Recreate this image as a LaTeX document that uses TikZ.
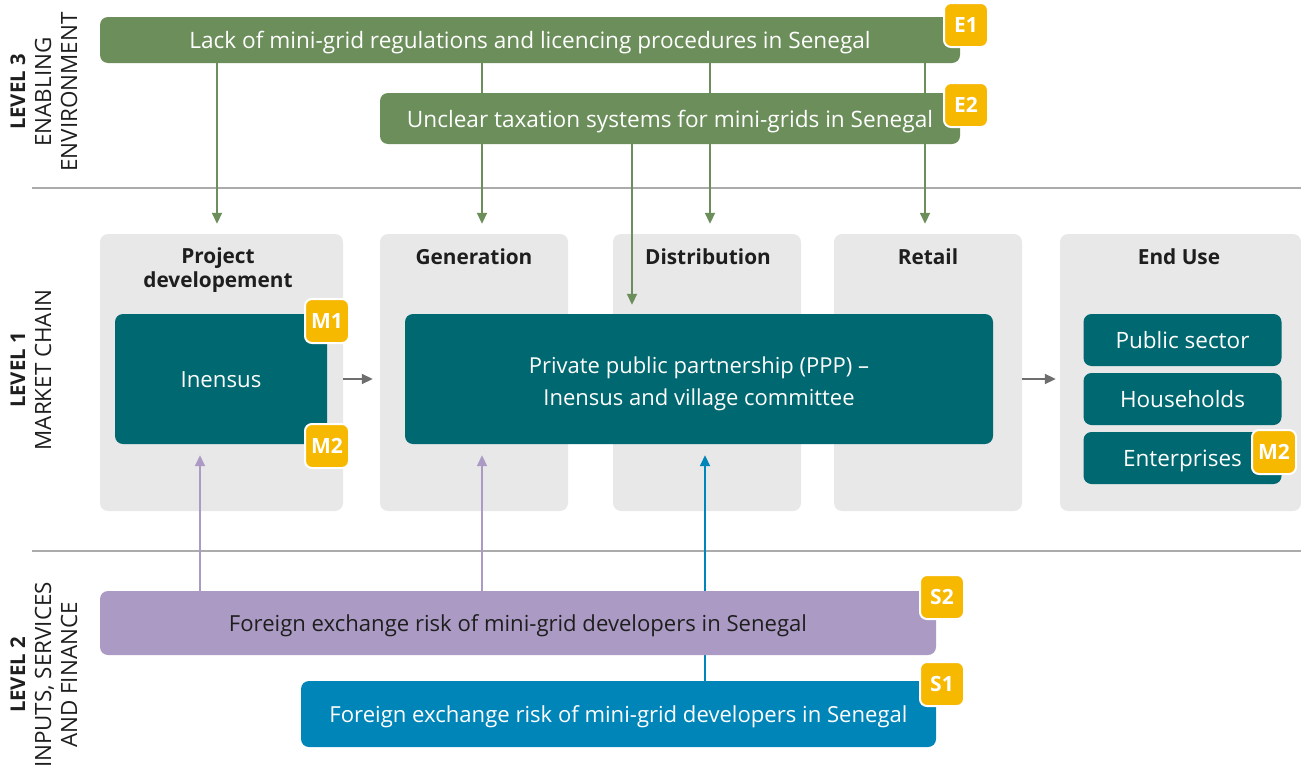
\documentclass[tikz,border=0pt]{standalone}
\usepackage{fontspec}
\setmainfont{Open Sans}
\usetikzlibrary{arrows.meta}
\definecolor{egreen}{HTML}{6B8E5A}
\definecolor{teal}{HTML}{006870}
\definecolor{badgey}{HTML}{F7B800}
\definecolor{colgray}{HTML}{E8E8E8}
\definecolor{sepgray}{HTML}{ABABAB}
\definecolor{arrgray}{HTML}{6E6E6E}
\definecolor{spurple}{HTML}{AB9BC4}
\definecolor{sblue}{HTML}{0085B9}
\definecolor{darktxt}{HTML}{1E1E1E}
\begin{document}
\begin{tikzpicture}[x=1pt,y=-1pt,
  txt/.style={font=\fontsize{22.2}{26}\selectfont},
  low/.style={text height=18pt,text depth=1pt},
  envbox/.style={fill=egreen,rounded corners=8pt,text=white,font=\fontsize{22.6}{26}\selectfont,inner sep=0pt,low},
  colbox/.style={fill=colgray,rounded corners=8pt,inner sep=0pt},
  head/.style={font=\bfseries\fontsize{20.8}{24}\selectfont,text=darktxt,align=center,anchor=base},
  tealbox/.style={fill=teal,rounded corners=8pt,text=white,txt,inner sep=0pt,align=center,low},
  badge/.style={fill=badgey,draw=white,line width=2pt,rounded corners=7pt,minimum size=44pt,inner sep=0pt,text=white,font=\bfseries\fontsize{21}{24}\selectfont},
  lvl/.style={rotate=90,align=center,text=darktxt,font=\fontsize{22.4}{26}\selectfont},
  garrow/.style={draw=egreen,line width=1.8pt,-{Triangle[length=11pt,width=10pt]}},
  parrow/.style={draw=spurple,line width=1.8pt,-{Triangle[length=11pt,width=10pt]}},
  barrow/.style={draw=sblue,line width=1.8pt,-{Triangle[length=11pt,width=10pt]}},
  grarrow/.style={draw=arrgray,line width=1.8pt,-{Triangle[length=11pt,width=10pt]}}]
\useasboundingbox (0,0) rectangle (1301,771);
% separators
\draw[sepgray,line width=2.5pt] (32,188) -- (1301,188);
\draw[sepgray,line width=2.5pt] (32,551) -- (1301,551);
% level labels
\node[lvl] (l3) at (44,92) {{\bfseries\fontsize{20.3}{26}\selectfont LEVEL 3}\\ENABLING\\ENVIRONMENT};
\node[lvl] (l1) at (31,370) {{\bfseries\fontsize{20.3}{26}\selectfont LEVEL 1}\\MARKET CHAIN};
\node[lvl] (l2) at (44,675) {{\bfseries\fontsize{20.3}{26}\selectfont LEVEL 2}\\INPUTS, SERVICES\\AND FINANCE};
% columns
\node[colbox,minimum width=243pt,minimum height=277pt] (pd) at (221.5,372.5) {};
\node[colbox,minimum width=188pt,minimum height=277pt] (gen) at (474,372.5) {};
\node[colbox,minimum width=188pt,minimum height=277pt] (dist) at (707,372.5) {};
\node[colbox,minimum width=188pt,minimum height=277pt] (ret) at (928,372.5) {};
\node[colbox,minimum width=241pt,minimum height=277pt] (eu) at (1180.5,372.5) {};
\node[head] (pdh) at (218,287) {Project\\developement};
\node[head] (genh) at (474,264.5) {Generation};
\node[head] (disth) at (708,264.5) {Distribution};
\node[head] (reth) at (928,264.5) {Retail};
\node[head] (euh) at (1179,264.5) {End Use};
% E1 and its lines
\node[envbox,minimum width=860pt,minimum height=46pt] (E1) at (530,40) {Lack of mini-grid regulations and licencing procedures in Senegal};
\coordinate (xa) at (217,0);
\coordinate (xb) at (482,0);
\coordinate (xc) at (710,0);
\coordinate (xd) at (925,0);
\coordinate (xe) at (632,0);
\draw[garrow,shorten >=10pt] (E1.south -| xa) -- (pd.north -| xa);
\draw[garrow,shorten >=10pt] (E1.south -| xb) -- (gen.north -| xb);
\draw[garrow,shorten >=10pt] (E1.south -| xc) -- (dist.north -| xc);
\draw[garrow,shorten >=10pt] (E1.south -| xd) -- (ret.north -| xd);
% E2
\node[envbox,minimum width=580pt,minimum height=51pt] (E2) at (670,118.5) {Unclear taxation systems for mini-grids in Senegal};
% teal boxes
\node[tealbox,minimum width=212pt,minimum height=130pt] (ine) at (221,379) {Inensus};
\node[fill=teal,rounded corners=8pt,text=white,inner sep=0pt,align=center,minimum width=588pt,minimum height=130pt,font=\fontsize{22}{31.6}\selectfont] (ppp) at (699,379) {\rule{0pt}{26pt}Private public partnership (PPP) --\\Inensus and village committee};
\node[tealbox,minimum width=198pt,minimum height=52pt,font=\fontsize{22.5}{26}\selectfont] (pub) at (1182.5,340) {Public sector};
\node[tealbox,minimum width=198pt,minimum height=52pt,font=\fontsize{22.5}{26}\selectfont] (hh) at (1182.5,399) {Households};
\node[tealbox,minimum width=198pt,minimum height=52pt,font=\fontsize{22.5}{26}\selectfont] (ent) at (1182.5,458) {Enterprises};
\draw[garrow,shorten >=9pt] (E2.south -| xe) -- (ppp.north -| xe);
% S1 and blue line
\node[tealbox,fill=sblue,minimum width=635pt,minimum height=66pt,font=\fontsize{22.1}{26}\selectfont] (S1) at (618.5,714) {Foreign exchange risk of mini-grid developers in Senegal};
\coordinate (xf) at (705,0);
\coordinate (xg) at (200,0);
\draw[barrow,shorten >=11pt] (S1.north -| xf) -- (ppp.south -| xf);
% S2 and purple lines
\node[tealbox,fill=spurple,text=darktxt,minimum width=836pt,minimum height=64pt,font=\fontsize{22.1}{26}\selectfont] (S2) at (518,623) {Foreign exchange risk of mini-grid developers in Senegal};
\draw[parrow,shorten >=11pt] (S2.north -| xg) -- (ine.south -| xg);
\draw[parrow,shorten >=11pt] (S2.north -| xb) -- (ppp.south -| xb);
% chain arrows
\draw[grarrow,shorten >=7pt] (pd.east |- ine) -- (gen.west |- ine);
\draw[grarrow,shorten >=4pt] (ret.east |- ine) -- (eu.west |- ine);
% badges
\node[badge] (bE1) at (966,25) {E1};
\node[badge] (bE2) at (966,105) {E2};
\node[badge] (bM1) at (327,321) {M1};
\node[badge] (bM2) at (327,446) {M2};
\node[badge] (bM2e) at (1274,452) {M2};
\node[badge] (bS2) at (942,597) {S2};
\node[badge] (bS1) at (942,684) {S1};
\end{tikzpicture}
\end{document}
